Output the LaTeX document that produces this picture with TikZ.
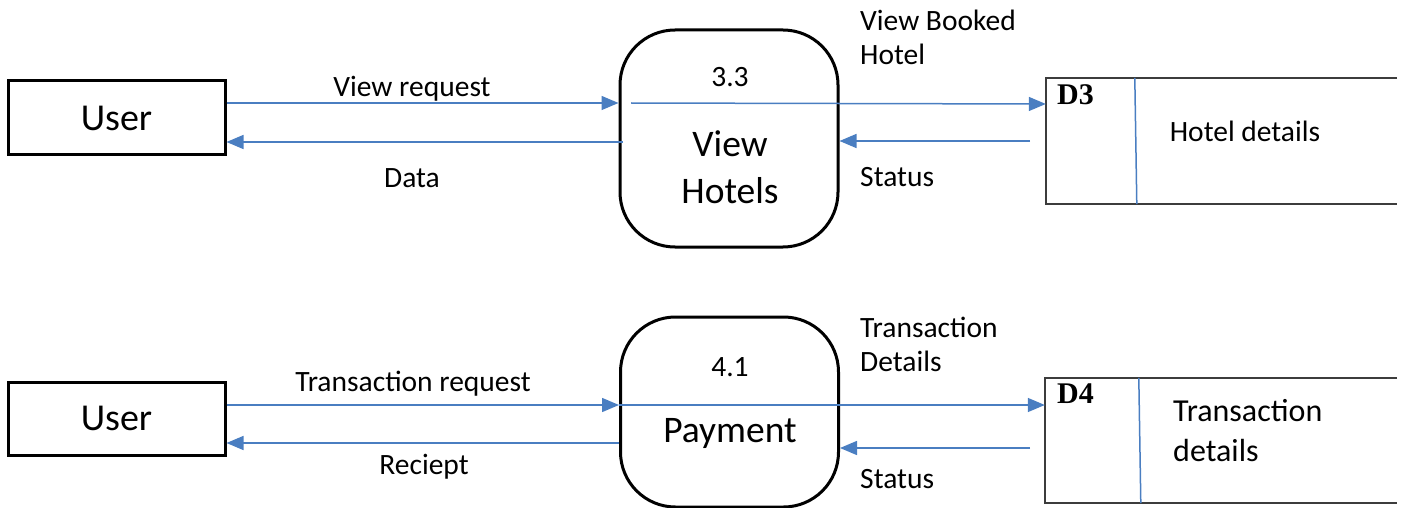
\documentclass[tikz,border=0pt]{standalone}
\usepackage{fontspec}
\setmainfont{Carlito}
\newfontfamily\storefont{Liberation Serif}
\usetikzlibrary{arrows.meta}
\definecolor{flow}{RGB}{74,126,193}
\definecolor{storeline}{RGB}{60,60,60}
\tikzset{
  entity/.style={draw, line width=3pt, minimum width=217pt, minimum height=74pt, inner sep=0pt, font=\fontsize{38}{44}\selectfont},
  process/.style={draw, line width=3pt, rounded corners=55pt, minimum width=218pt, inner sep=0pt},
  storebox/.style={minimum width=351pt, minimum height=126pt, inner sep=0pt},
  flowline/.style={draw=flow, line width=1.5pt},
  flowarrow/.style={flowline, -{Triangle[length=17pt,width=14pt]}},
  lbl/.style={font=\fontsize{29.5}{34}\selectfont, inner sep=0pt},
  ptext/.style={font=\fontsize{37.5}{47}\selectfont, inner sep=0pt, align=center},
  pnum/.style={font=\fontsize{29.5}{34}\selectfont, inner sep=0pt},
  sid/.style={font=\storefont\bfseries\fontsize{30}{33}\selectfont, inner sep=0pt, anchor=north west},
}
\begin{document}
\begin{tikzpicture}[x=1pt,y=-1pt]
\useasboundingbox (0,0) rectangle (1416,508);
% ---------- top diagram ----------
\node[entity] (user1) at (116.5,118) {User};
\node[process, minimum height=217pt] (p1) at (729,138.5) {};
\node[pnum] (n1) at (730,77) {3.3};
\node[ptext] (t1) at (730,167) {View\\Hotels};
\node[storebox] (d3) at (1221.5,141) {};
\draw[storeline, line width=2pt] (d3.north east) -- (d3.north west) -- (d3.south west) -- (d3.south east);
\draw[flowline] ([xshift=89pt]d3.north west) -- ([xshift=91pt]d3.south west);
\node[sid] (id3) at (1057,84) {D3};
\node[lbl] (s3) at (1245,131) {Hotel details};

\coordinate (a1) at (p1.west |- 0,103);
\draw[flowarrow] (user1.east |- a1) -- (a1);
\coordinate (b1) at (631,103);
\draw[flowarrow] (b1) -- (d3.west |- 0,104);
\draw[flowarrow] ([xshift=4pt]p1.west |- 0,142) -- (user1.east |- 0,142);
\coordinate (c1) at (1030,141);
\draw[flowarrow] (c1) -- (p1.east |- c1);

\node[lbl] (l1) at (412,89) {View request};
\node[lbl] (l2) at (412,178) {Data};
\node[lbl, anchor=west, align=left, font=\fontsize{29.5}{34}\selectfont] (l3) at (860,37) {View Booked\\Hotel};
\node[lbl, anchor=west] (l4) at (860,177) {Status};

% ---------- bottom diagram ----------
\node[entity, minimum height=73pt] (user2) at (116.5,418.5) {User};
\node[process, minimum height=190pt] (p2) at (729.5,412) {};
\node[pnum] (n2) at (730,367) {4.1};
\node[ptext] (t2) at (730,433) {Payment};
\node[storebox, minimum width=352pt, minimum height=125pt] (d4) at (1221,440.5) {};
\draw[storeline, line width=2pt] (d4.north east) -- (d4.north west) -- (d4.south west) -- (d4.south east);
\draw[flowline] ([xshift=94pt]d4.north west) -- ([xshift=96pt]d4.south west);
\node[sid] (id4) at (1057,384) {D4};
\node[lbl, anchor=west, align=left, font=\fontsize{32}{40}\selectfont] (s4) at (1173,431) {Transaction\\details};

\coordinate (a2) at (p2.west |- 0,405);
\draw[flowarrow] (user2.east |- a2) -- (a2);
\draw[flowarrow] (a2) -- (d4.west |- a2);
\draw[flowarrow] (p2.west |- 0,443) -- (user2.east |- 0,443);
\coordinate (c2) at (1030,448);
\draw[flowarrow] (c2) -- (p2.east |- c2);

\node[lbl] (m1) at (413,384) {Transaction request};
\node[lbl] (m2) at (424,467) {Reciept};
\node[lbl, anchor=west, align=left, font=\fontsize{29.5}{34}\selectfont] (m3) at (860,344) {Transaction\\Details};
\node[lbl, anchor=west] (m4) at (860,479) {Status};
\end{tikzpicture}
\end{document}
